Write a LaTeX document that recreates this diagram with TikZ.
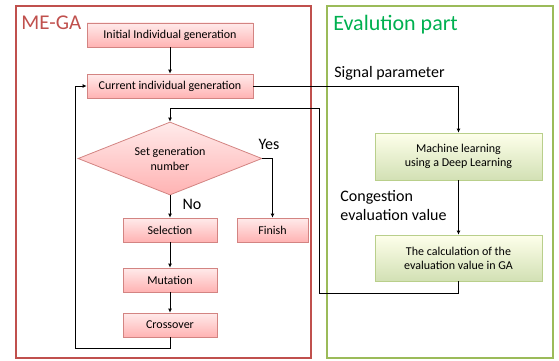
\documentclass[tikz,border=0pt]{standalone}
\usepackage{fontspec}
\setmainfont{Carlito}
\usetikzlibrary{arrows.meta,shapes.geometric,shadows}

\definecolor{gared}{HTML}{C0504D}
\definecolor{evgreen}{HTML}{9BBB59}
\definecolor{evtext}{HTML}{00B050}

\tikzset{
  gabox/.style={draw=gared!70, top color=red!8, bottom color=red!30, minimum height=24pt,
    font=\fontsize{12}{14}\selectfont, inner sep=2pt, drop shadow={opacity=0.25, shadow xshift=1pt, shadow yshift=-1pt}},
  evbox/.style={draw=evgreen!70, top color=green!5!yellow!8, bottom color=evgreen!45, minimum width=167pt,
    align=center, font=\fontsize{12}{14}\selectfont, drop shadow={opacity=0.25, shadow xshift=1pt, shadow yshift=-1pt}},
  lbl/.style={font=\fontsize{16}{19}\selectfont, align=left},
}

\begin{document}
\begin{tikzpicture}[x=1pt,y=-1pt,line width=0.8pt,>={Latex[length=4pt,width=4pt]}]
  \useasboundingbox (0,0) rectangle (559,361);
  % frames
  \draw[gared,line width=2.5pt] (16,6) rectangle (311,358);
  \draw[evgreen,line width=2.8pt] (327,6) rectangle (553,358);
  \node[gared,font=\fontsize{21}{24}\selectfont,anchor=west,inner sep=0pt] (megatitle) at (21,23) {ME-GA};
  \node[evtext,font=\fontsize{22}{26}\selectfont,anchor=west,inner sep=0pt] (evtitle) at (333,25) {Evalution part};

  % GA side
  \node[gabox,minimum width=166pt] (init) at (170,35) {Initial Individual generation};
  \node[gabox,minimum width=166pt] (curr) at (170,86) {Current individual generation};
  \node[diamond,aspect=2.5,draw=gared!70,top color=red!8,bottom color=red!30,minimum width=184pt,minimum height=73pt,
    inner sep=0pt,align=center,font=\fontsize{12}{15}\selectfont] (gennum) at (170,158.5) {Set generation\\number};
  \node[gabox,minimum width=94pt] (sel) at (170,230) {Selection};
  \node[gabox,minimum width=71pt] (fin) at (272.5,230) {Finish};
  \node[gabox,minimum width=94pt] (mut) at (170,280) {Mutation};
  \node[gabox,minimum width=94pt] (cross) at (170,325) {Crossover};
  \node[lbl] (yes) at (269,144) {Yes};
  \node[lbl] (no) at (192,204) {No};

  % evaluation side
  \node[evbox,minimum height=47pt] (ml) at (458.5,156.5) {Machine learning\\using a Deep Learning};
  \node[evbox,minimum height=46pt] (calc) at (458.5,258) {The calculation of the\\evaluation value in GA};
  \node[lbl,anchor=west,inner sep=0pt] (sigpar) at (334,73) {Signal parameter};
  \node[lbl,anchor=north west,inner sep=0pt] (congval) at (340,190) {Congestion\\evaluation value};

  % connectors
  \draw[->] (init) -- (curr);
  \draw[->] (curr.east) -| (ml.north);
  \draw[->] (ml) -- (calc);
  \draw[->] (calc.south) -- ++(0,12) -| (319,108) -| (gennum.north);
  \draw[->] (gennum.east) -| (fin.north);
  \draw[->] (gennum.south) -- (sel);
  \draw[->] (sel) -- (mut);
  \draw[->] (mut) -- (cross);
  \draw[->] (cross.south) -- ++(0,11) -| (75,86) -- (curr.west);
\end{tikzpicture}
\end{document}
